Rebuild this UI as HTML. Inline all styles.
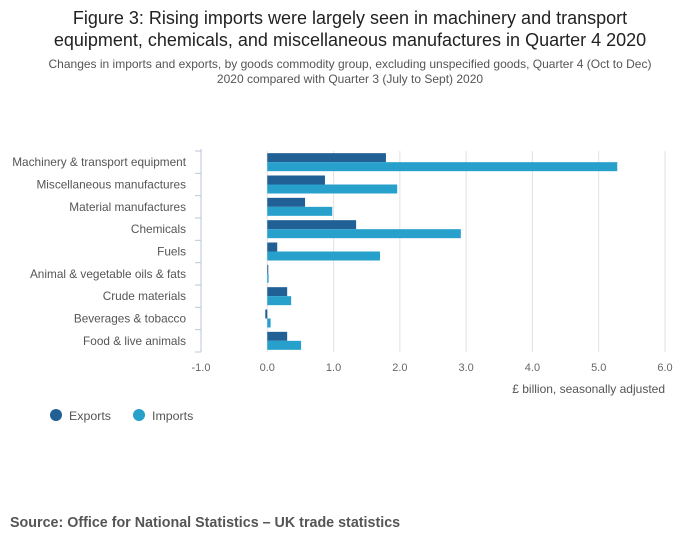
<!DOCTYPE html>
<html><head><meta charset="utf-8"><style>
body{margin:0;background:#fff;font-family:"Liberation Sans",sans-serif;}
svg text{font-family:"Liberation Sans",sans-serif;}
</style></head><body>
<svg width="700" height="549">
<text x="350" y="24" text-anchor="middle" font-size="18" fill="#222">Figure 3: Rising imports were largely seen in machinery and transport</text>
<text x="350" y="46" text-anchor="middle" font-size="18" fill="#222">equipment, chemicals, and miscellaneous manufactures in Quarter 4 2020</text>
<text x="350" y="68" text-anchor="middle" font-size="12" fill="#555">Changes in imports and exports, by goods commodity group, excluding unspecified goods, Quarter 4 (Oct to Dec)</text>
<text x="350" y="83" text-anchor="middle" font-size="12" fill="#555">2020 compared with Quarter 3 (July to Sept) 2020</text>
<g id="plot"></g>
<text x="665" y="393" text-anchor="end" font-size="12" fill="#555">£ billion, seasonally adjusted</text>
<circle cx="56" cy="415" r="6" fill="#206095"/>
<text x="69" y="420" font-size="12.4" fill="#555">Exports</text>
<circle cx="139" cy="415" r="6" fill="#27a0cc"/>
<text x="152" y="420" font-size="12.4" fill="#555">Imports</text>
<text x="10" y="527" font-size="14.3" font-weight="bold" fill="#555">Source: Office for National Statistics – UK trade statistics</text>
</svg>
<script>
const categories=["Machinery & transport equipment","Miscellaneous manufactures","Material manufactures","Chemicals","Fuels","Animal & vegetable oils & fats","Crude materials","Beverages & tobacco","Food & live animals"];
const exportsVals=[1.79,0.87,0.57,1.34,0.15,0.01,0.30,-0.03,0.30];
const importsVals=[5.28,1.96,0.98,2.92,1.70,0.02,0.36,0.05,0.51];
const xTicks=[-1,0,1,2,3,4,5,6];
const xTickLabels=["-1.0","0.0","1.0","2.0","3.0","4.0","5.0","6.0"];
const NS="http://www.w3.org/2000/svg";
const g=document.getElementById("plot");
const x0=201,x1=665,vmin=-1,vmax=6,plotTop=151,plotBottom=352;
const xs=v=>x0+(v-vmin)/(vmax-vmin)*(x1-x0);
const band=(plotBottom-plotTop)/categories.length;
function mk(t,a){const e=document.createElementNS(NS,t);for(const k in a)e.setAttribute(k,a[k]);g.appendChild(e);return e;}
xTicks.forEach((v,i)=>{
 const l=mk("line",{x1:xs(v),x2:xs(v),y1:plotTop,y2:plotBottom,stroke:"#e2e2e2"});
 
 
 const t=mk("text",{x:xs(v),y:371,"text-anchor":"middle","font-size":11,fill:"#666"});
 t.textContent=xTickLabels[i];
 
 
});
const ax=mk("line",{x1:x0,x2:x0,y1:plotTop-2,y2:plotBottom,stroke:"#bcc6d6"});


for(let i=0;i<=categories.length;i++){
 const tk=mk("line",{x1:x0-6,x2:x0,y1:plotTop+i*band,y2:plotTop+i*band,stroke:"#bcc6d6"});
 
 
}
categories.forEach((c,i)=>{
 const cy=plotTop+i*band+band/2;
 const t=mk("text",{x:186,y:cy+4,"text-anchor":"end","font-size":11.8,fill:"#555"});
 t.textContent=c;
 
 
 const bh=9;
 [[exportsVals[i],"#206095",cy-bh,'export-bar'],[importsVals[i],"#27a0cc",cy,'import-bar']].forEach(([v,col,y,n])=>{
  const a=xs(0),b=xs(v);
  const r=mk("rect",{x:Math.min(a,b),y:y,width:Math.max(1,Math.abs(b-a)),height:bh,fill:col});
  
  
 });
});
</script>
</body></html>
